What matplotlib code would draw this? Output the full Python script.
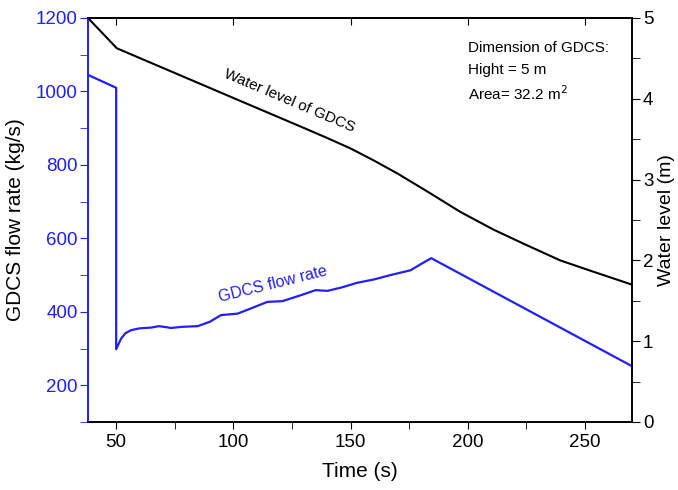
import matplotlib.pyplot as plt
from matplotlib.ticker import MultipleLocator

plt.rcParams['font.family'] = ['Liberation Sans', 'DejaVu Sans']

# GDCS flow rate (kg/s)
flow_t = [38, 50, 50, 52.1, 54, 56.4, 60, 64.9, 68.4, 73.4, 78, 84.8, 90, 94.7, 101.8,
          107.4, 114.5, 120.9, 128.7, 135.1, 140.1, 146, 152.8, 159.9, 167.0, 175.5, 180, 184.4, 270]
flow = [1045, 1010, 298, 327, 342, 350, 355, 357, 361, 356, 359, 361, 373, 391, 395,
        409, 427, 429, 445, 459, 457, 466, 479, 488, 500, 513, 530, 546, 252]

# Water level (m)
lvl_t = [38, 50.3, 100, 130, 140, 150, 160, 170, 184, 196.8, 211, 225, 239.4, 253.5, 270]
lvl = [5.0, 4.625, 4.01, 3.64, 3.515, 3.385, 3.235, 3.075, 2.83, 2.60, 2.38, 2.19, 2.00, 1.86, 1.70]

blue = '#1f1fff'

fig = plt.figure(figsize=(6.78, 4.9), dpi=100)
ax = fig.add_axes([0.1298, 0.1388, 0.8023, 0.8245])
ax2 = ax.twinx()

ax.plot(flow_t, flow, color=blue, lw=1.6)
ax2.plot(lvl_t, lvl, color='black', lw=1.5)

ax.set_xlim(38, 270)
ax.set_ylim(100, 1200)
ax2.set_ylim(0, 5)

ax.xaxis.set_major_locator(MultipleLocator(50))
ax.xaxis.set_minor_locator(MultipleLocator(25))
ax.yaxis.set_major_locator(MultipleLocator(200))
ax.yaxis.set_minor_locator(MultipleLocator(100))
ax2.yaxis.set_major_locator(MultipleLocator(1))
ax2.yaxis.set_minor_locator(MultipleLocator(0.5))

ax.tick_params(axis='x', which='both', direction='out', labelsize=13.5, length=5)
ax.tick_params(axis='y', which='both', colors=blue, labelsize=13.5, length=6, pad=1.5)
ax2.tick_params(axis='y', which='both', labelsize=13.5, length=6, pad=2)

top = ax.secondary_xaxis('top')
top.xaxis.set_major_locator(MultipleLocator(50))
top.tick_params(axis='x', direction='in', length=5, labeltop=False)
top.spines['top'].set_linewidth(1.2)

ax.spines['left'].set_color(blue)
ax2.spines['left'].set_color(blue)
for s in list(ax.spines.values()) + list(ax2.spines.values()):
    s.set_linewidth(1.2)

ax.set_xlabel('Time (s)', fontsize=15, labelpad=8)
ax.set_ylabel('GDCS flow rate (kg/s)', fontsize=15, labelpad=8)
ax2.set_ylabel('Water level (m)', fontsize=14, labelpad=3)

ax2.text(200, 4.63, 'Dimension of GDCS:', fontsize=11, va='center', ha='left')
ax2.text(200, 4.36, 'Hight = 5 m', fontsize=11, va='center', ha='left')
ax2.text(200, 4.06, 'Area= 32.2 m$^2$', fontsize=11, va='center', ha='left')
ax2.text(124, 3.98, 'Water level of GDCS', fontsize=11, rotation=-23,
         ha='center', va='center')
ax.text(117, 475, 'GDCS flow rate', fontsize=11.5, color=blue, rotation=14,
        ha='center', va='center')

fig.savefig('out.png', dpi=100)
